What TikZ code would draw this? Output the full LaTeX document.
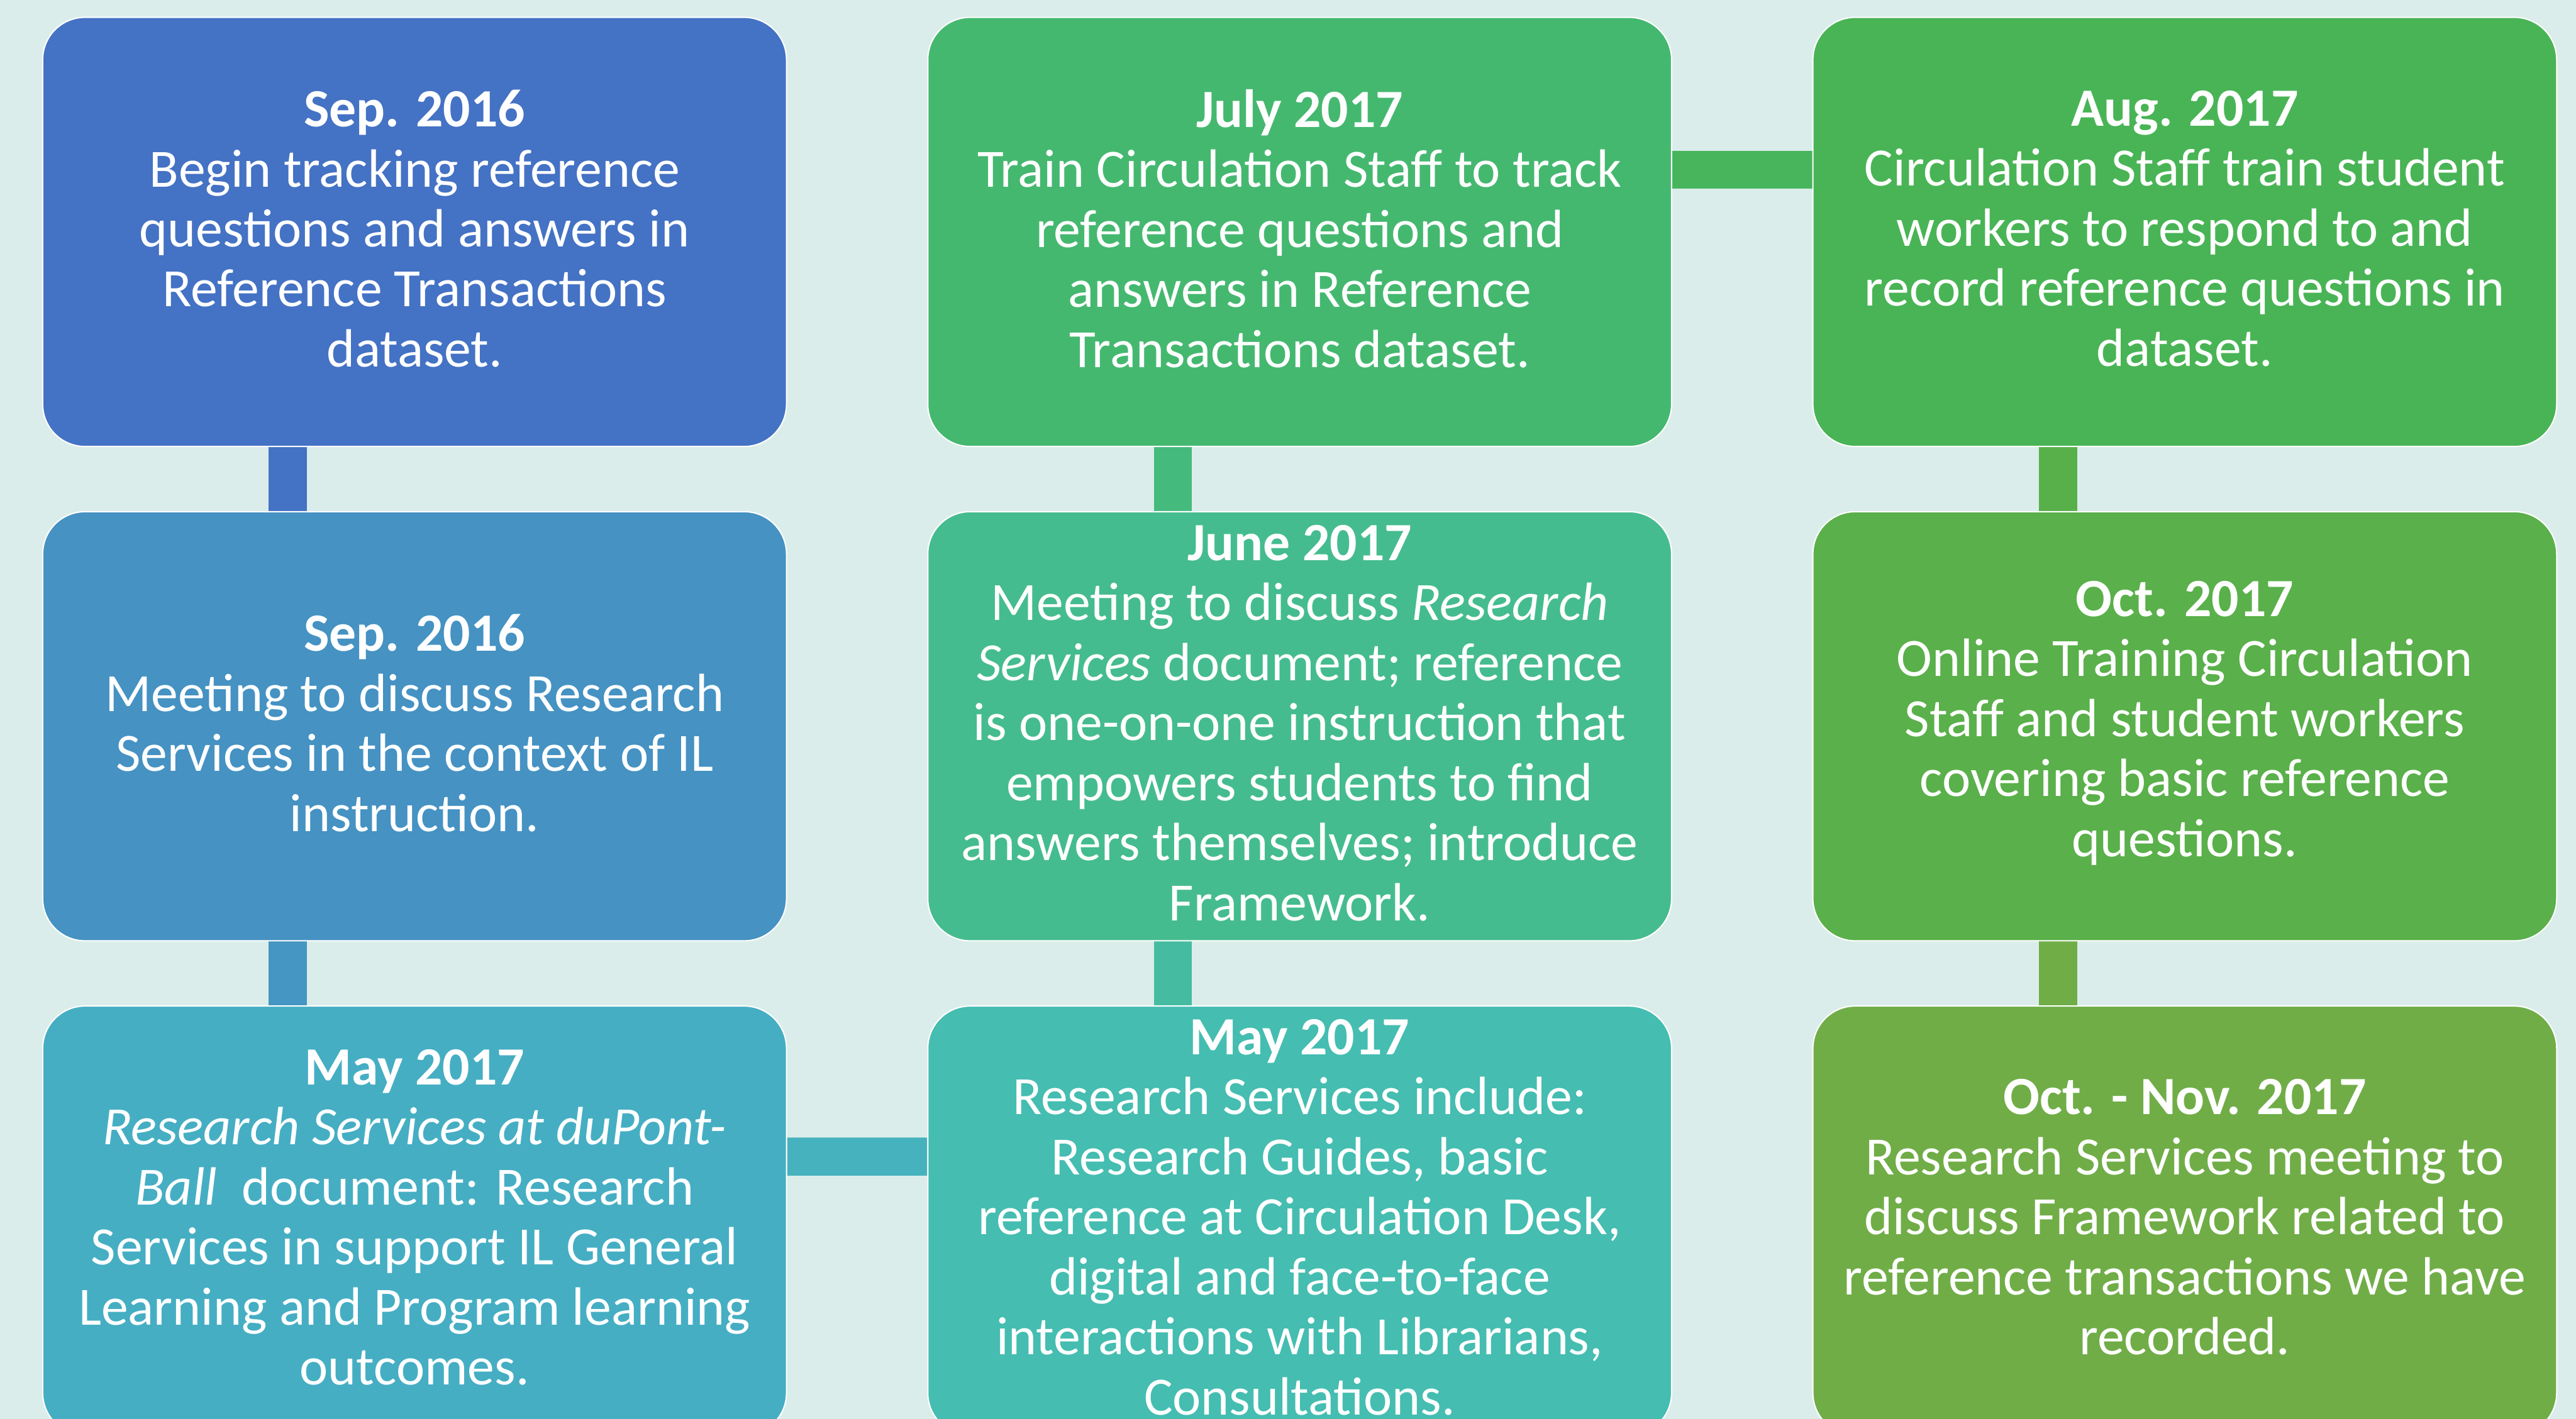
\documentclass[tikz,border=0pt]{standalone}
\usepackage{fontspec}
\setmainfont{Carlito}
\usetikzlibrary{matrix,positioning,backgrounds}

\definecolor{bg}{HTML}{DAEDEA}
\definecolor{ev1}{HTML}{4472C4}
\definecolor{ev2}{HTML}{4592C3}
\definecolor{ev3}{HTML}{45AEC3}
\definecolor{ev4}{HTML}{45BDB1}
\definecolor{ev5}{HTML}{45BC8F}
\definecolor{ev6}{HTML}{45B870}
\definecolor{ev7}{HTML}{49B455}
\definecolor{ev8}{HTML}{5AB04A}
\definecolor{ev9}{HTML}{70AD47}

% centred text block, sitting a little above the middle of its box
\newcommand{\eventtext}[1]{\raisebox{0.055cm}[\height][\depth]{\parbox{12.2cm}{\centering #1}}}

\begin{document}
\begin{tikzpicture}[
event/.style={
  draw=white,
  line width=0.6pt,
  rounded corners=0.7cm,
  minimum width=12.32cm,
  minimum height=7.11cm,
  inner sep=0pt,
  text=white,
  font=\fontsize{25.4}{28.3}\selectfont
  },
net/.style={
  matrix of nodes,
  nodes={event},
  column sep=2.32cm,
  row sep=1.06cm,
  inner sep=0pt,
  anchor=north west
  },
link/.style={
  line width=0.63cm
  }
]
\useasboundingbox (0,0) rectangle (42.67,-23.51);

\matrix[net] (mat) at (0.69,-0.27)
{
|[fill=ev1]| \eventtext{\textbf{Sep. 2016}\\ Begin tracking reference\\
    questions and answers in\\ Reference Transactions\\ dataset.} &
|[fill=ev6]| \eventtext{\textbf{July 2017}\\ Train Circulation Staff to track\\
    reference questions and\\ answers in Reference\\ Transactions dataset.} &
|[fill=ev7]| \eventtext{\textbf{Aug. 2017}\\ Circulation Staff train student\\
    workers to respond to and\\ record reference questions in\\ dataset.} \\
|[fill=ev2]| \eventtext{\textbf{Sep. 2016}\\ Meeting to discuss Research\\
    Services in the context of IL\\ instruction.} &
|[fill=ev5]| \eventtext{\textbf{June 2017}\\ Meeting to discuss \textit{Research}\\
    \textit{Services} document; reference\\ is one-on-one instruction that\\
    empowers students to find\\ answers themselves; introduce\\ Framework.} &
|[fill=ev8]| \eventtext{\textbf{Oct. 2017}\\ Online Training Circulation\\
    Staff and student workers\\ covering basic reference\\ questions.} \\
|[fill=ev3]| \eventtext{\textbf{May 2017}\\ \textit{Research Services at duPont-}\\
    \textit{Ball}\ \ document: Research\\ Services in support IL General\\
    Learning and Program learning\\ outcomes.} &
|[fill=ev4]| \eventtext{\textbf{May 2017}\\ Research Services include:\\
    Research Guides, basic\\ reference at Circulation Desk,\\ digital and face-to-face\\
    interactions with Librarians,\\ Consultations.} &
|[fill=ev9]| \eventtext{\textbf{Oct. - Nov. 2017}\\ Research Services meeting to\\
    discuss Framework related to\\ reference transactions we have\\ recorded.} \\
};

% bars between the events, behind the boxes
\begin{scope}[on background layer]
\fill[bg] (0,0) rectangle (42.67,-23.51);
\foreach \from/\to/\cl in {1-1/2-1/ev1, 2-1/3-1/ev2!86!ev3,
    2-2/3-2/ev4!57!ev5, 1-2/2-2/ev5!43!ev6,
    1-3/2-3/ev7!14!ev8, 2-3/3-3/ev9}
  \draw[link, \cl] ([xshift=-2.1cm]mat-\from.south) -- ([xshift=-2.1cm]mat-\to.north);
\draw[link, ev3!71!ev4] ([yshift=1.06cm]mat-3-1.east) -- ([yshift=1.06cm]mat-3-2.west);
\draw[link, ev6!29!ev7] ([yshift=1.03cm]mat-1-2.east) -- ([yshift=1.03cm]mat-1-3.west);
\end{scope}
\end{tikzpicture}
\end{document}
